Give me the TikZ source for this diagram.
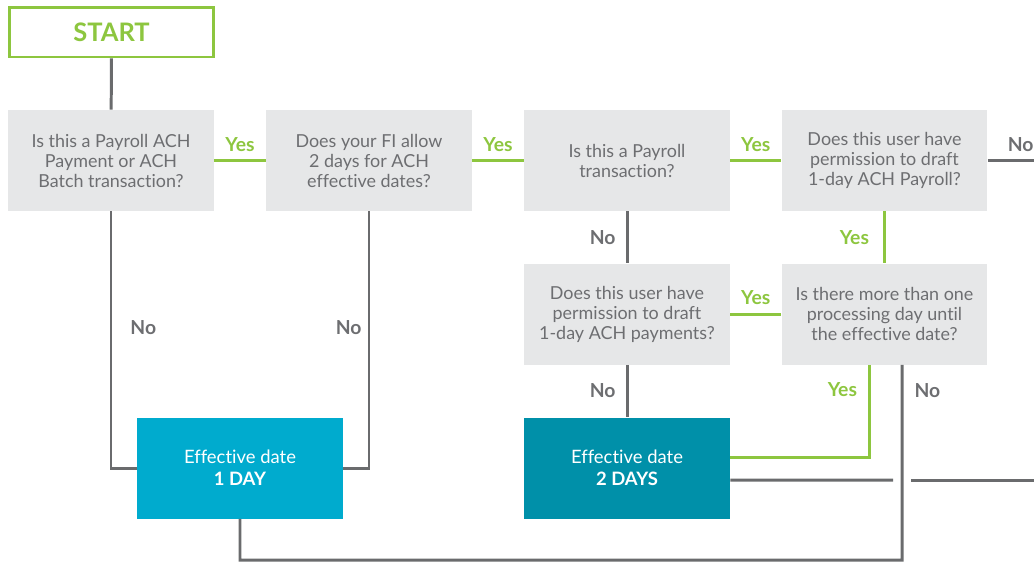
\documentclass[tikz,border=0pt]{standalone}
\usepackage{fontspec}
\setmainfont{Lato}[Ligatures=NoCommon]
\usepackage{xcolor}
\usetikzlibrary{positioning}
\definecolor{boxgray}{HTML}{E6E7E8}
\definecolor{textgray}{HTML}{6D6E71}
\definecolor{linegray}{HTML}{6A6B6D}
\definecolor{yesgreen}{HTML}{8DC63F}
\definecolor{dayone}{HTML}{00ABCE}
\definecolor{daytwo}{HTML}{0090A9}

\begin{document}
\begin{tikzpicture}[
  x=0.02cm,
  y=-0.02cm,
  question/.style={fill=boxgray, text=textgray, minimum width=4.12cm, minimum height=2.02cm,
    inner sep=0pt, align=center, font=\fontsize{10.2}{11.4}\selectfont},
  result/.style={text=white, minimum width=4.12cm, minimum height=2.02cm,
    inner sep=0pt, align=center, font=\fontsize{10.5}{12.4}\selectfont},
  startbox/.style={draw=yesgreen, line width=1.7pt, fill=white, text=yesgreen,
    minimum width=4.08cm, minimum height=1.0cm, font=\bfseries\fontsize{14.5}{14.5}\selectfont},
  link/.style={draw=linegray, line width=1.7pt},
  yeslink/.style={draw=yesgreen, line width=1.7pt},
  yes/.style={text=yesgreen, inner sep=0pt, font=\bfseries\fontsize{11}{11}\selectfont},
  no/.style={text=textgray, inner sep=0pt, font=\bfseries\fontsize{11}{11}\selectfont}
]
\useasboundingbox (0,0) rectangle (1034,562);

% boxes
\node[startbox] (start) at (111.5,32) {START};
\node[question] (q1) at (111,160.5) {Is this a Payroll ACH\\Payment or ACH\\Batch transaction?};
\node[question] (q2) at (369,160.5) {Does your FI allow\\2 days for ACH\\effective dates?};
\node[question] (q3) at (627,160.5) {Is this a Payroll\\transaction?};
\node[question] (q4) at (884.5,160.5) {Does this user have\\permission to draft\\1-day ACH Payroll?};
\node[question] (q6) at (627,314) {Does this user have\\permission to draft\\1-day ACH payments?};
\node[question] (q5) at (884.5,314) {Is there more than one\\processing day until\\the effective date?};
\node[result, fill=dayone] (day1) at (240,468) {Effective date\\\textbf{1 DAY}};
\node[result, fill=daytwo] (day2) at (627,468) {Effective date\\\textbf{2 DAYS}};

\coordinate (q4out) at (1034,160.5);
\coordinate (cut1) at (893,480);
\coordinate (cut2) at (911,480);
\coordinate (rightout) at (1034,480);
\coordinate (loop) at (902,560);

% connectors
\draw[link] (start) -- (q1);
\draw[yeslink] (q1) -- node[yes, above=0.15cm] (y1) {Yes} (q2);
\draw[yeslink] (q2) -- node[yes, above=0.15cm] (y2) {Yes} (q3);
\draw[yeslink] (q3) -- node[yes, above=0.15cm] (y3) {Yes} (q4);
\draw[link] (q4) -- node[no, pos=0.4, anchor=south west, yshift=0.15cm] (n4) {No} (q4out);
\draw[yeslink] (q4) -- node[yes, left=0.28cm] (y4) {Yes} (q5);
\draw[yeslink] (q5) -- node[yes, above=0.15cm] (y5) {Yes} (q6);
\draw[link] (q3) -- node[no, left=0.2cm] (n3) {No} (q6);
\draw[link] (q6) -- node[no, left=0.2cm] (n6) {No} (day2);
\draw[link] (q1.south) |- node[no, pos=0.226, right=0.36cm] (n1) {No} (day1.west);
\draw[link] (q2.south) |- node[no, pos=0.226, left=0.12cm] (n2) {No} (day1.east);
\draw[yeslink] ([xshift=-0.3cm]q5.south) |- node[yes, pos=0.136, left=0.22cm] (y6) {Yes} ([yshift=0.22cm]day2.east);
\draw[link] ([xshift=0.35cm]q5.south) -- node[no, pos=0.133, right=0.22cm] (n5) {No} (loop) -| (day1.south);
\draw[link] ([yshift=-0.24cm]day2.east) -- (cut1);
\draw[link] (cut2) -- (rightout);
\end{tikzpicture}
\end{document}
